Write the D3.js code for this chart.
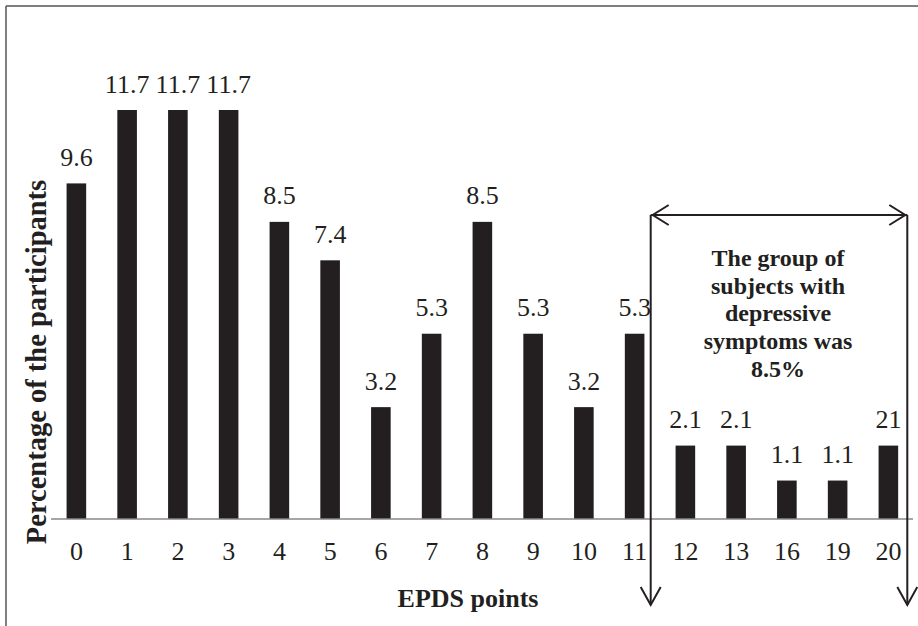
<!DOCTYPE html>
<html><head><meta charset="utf-8">
<script src="https://cdn.jsdelivr.net/npm/d3@7"></script>
<style>
html,body{margin:0;padding:0;background:#fff;}
text{font-family:"Liberation Serif","Times New Roman",serif;fill:#231f20;}
</style></head>
<body><svg id="chart" width="918" height="626"></svg>
<script>
const categories = ["0","1","2","3","4","5","6","7","8","9","10","11","12","13","16","19","20"];
const values = [9.6,11.7,11.7,11.7,8.5,7.4,3.2,5.3,8.5,5.3,3.2,5.3,2.1,2.1,1.1,1.1,2.1];
const valueLabels = ["9.6","11.7","11.7","11.7","8.5","7.4","3.2","5.3","8.5","5.3","3.2","5.3","2.1","2.1","1.1","1.1","21"];
const xTitle = "EPDS points";
const yTitle = "Percentage of the participants";
const noteLines = ["The group of","subjects with","depressive","symptoms was","8.5%"];

const svg = d3.select("#chart");
const ink = "#231f20";

// outer frame (top & left edges visible)
svg.append("line").attr("x1",6).attr("y1",6).attr("x2",918).attr("y2",6).attr("stroke","#555").attr("stroke-width",1.5);
svg.append("line").attr("x1",6).attr("y1",6).attr("x2",6).attr("y2",626).attr("stroke","#555").attr("stroke-width",1.5);

const x = d3.scaleBand().domain(categories).range([51, 913.75]).paddingInner(0.614).paddingOuter(0.307);
const y = d3.scaleLinear().domain([0, 11.7]).range([519, 110]);

// bars
svg.append("g").selectAll("rect").data(categories).join("rect")
  .attr("x", d => x(d)).attr("width", x.bandwidth())
  .attr("y", (d,i) => y(values[i])).attr("height", (d,i) => y(0) - y(values[i]))
  .attr("fill", ink);

// value labels
svg.append("g").selectAll("text").data(categories).join("text")
  .attr("x", d => x(d) + x.bandwidth()/2)
  .attr("y", (d,i) => y(values[i]) - 17.5)
  .attr("text-anchor","middle").attr("font-size",26)
  .text((d,i) => valueLabels[i]);

// x axis
const xAxis = d3.axisBottom(x).tickSize(0).tickPadding(0);
const gx = svg.append("g").attr("transform", `translate(0,${y(0)})`).call(xAxis);
gx.select(".domain").remove();
gx.selectAll("text").attr("font-size",26).attr("font-family","Liberation Serif").attr("fill",ink)
  .attr("dy",null).attr("y",41);
svg.append("line").attr("x1",51).attr("x2",913).attr("y1",y(0)).attr("y2",y(0))
  .attr("stroke","#888").attr("stroke-width",1.5);

// axis titles
svg.append("text").attr("x",468).attr("y",607).attr("text-anchor","middle")
  .attr("font-size",26).attr("font-weight","bold").text(xTitle);
svg.append("text").attr("transform","translate(46,362) rotate(-90)").attr("text-anchor","middle")
  .attr("font-size",28.5).attr("font-weight","bold").text(yTitle);

// annotation bracket
const aL = 650.7, aR = 907.3, aTop = 215, aBot = 605, ah = 18, aw = 10;
const g = svg.append("g").attr("stroke", ink).attr("stroke-width",2).attr("fill","none");
g.append("line").attr("x1",aL).attr("x2",aR).attr("y1",aTop).attr("y2",aTop);
g.append("line").attr("x1",aL).attr("x2",aL).attr("y1",aTop).attr("y2",aBot);
g.append("line").attr("x1",aR).attr("x2",aR).attr("y1",aTop).attr("y2",aBot);
g.append("polyline").attr("points",`${aL+ah},${aTop-aw} ${aL+2},${aTop} ${aL+ah},${aTop+aw}`);
g.append("polyline").attr("points",`${aR-ah},${aTop-aw} ${aR-2},${aTop} ${aR-ah},${aTop+aw}`);
g.append("polyline").attr("points",`${aL-aw},${aBot-ah} ${aL},${aBot} ${aL+aw},${aBot-ah}`);
g.append("polyline").attr("points",`${aR-aw},${aBot-ah} ${aR},${aBot} ${aR+aw},${aBot-ah}`);

svg.append("g").selectAll("text").data(noteLines).join("text")
  .attr("x",778).attr("y",(d,i) => 266 + i*27.7)
  .attr("text-anchor","middle").attr("font-size",24).attr("font-weight","bold")
  .text(d => d);
</script></body></html>
